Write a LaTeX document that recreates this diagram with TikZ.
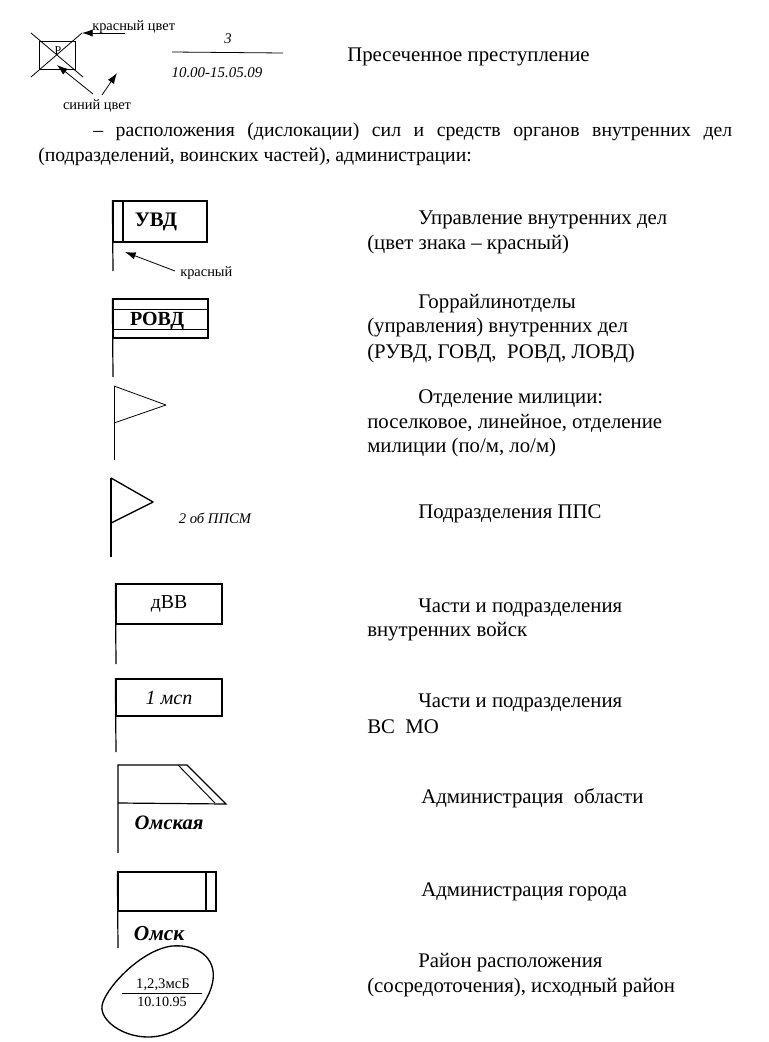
\documentclass[tikz,border=0pt]{standalone}
\usepackage{fontspec}
\setmainfont{Liberation Serif}
\usetikzlibrary{arrows.meta, positioning, calc}
\tikzset{
  caption/.style={anchor=west, inner sep=0pt, yshift=-0.75pt, font=\fontsize{15.6}{18}\selectfont},
  note/.style={inner sep=0pt, font=\fontsize{10.8}{12}\selectfont},
  flagbox/.style={draw, line width=0.9pt, rectangle, inner sep=0pt},
  pole/.style={draw, line width=0.9pt},
  pointer/.style={-{Latex[length=8pt,width=5.5pt]}, line width=0.6pt},
}
\begin{document}
\begin{tikzpicture}[x=0.75pt, y=-0.75pt]
\useasboundingbox (0,0) rectangle (768,1042);
% crossed-out sign
\node (post) [draw, rectangle, line width=0.6pt, minimum width=27pt, minimum height=21pt, inner sep=0pt] at (57,55) {};
\node (postmark) [inner sep=0pt, font=\fontsize{9}{10}\selectfont] at (58,51) {Р};
\coordinate (crossa) at (31,33);
\coordinate (crossb) at (83,77);
\coordinate (crossc) at (31,77);
\coordinate (crossd) at (82,33);
\draw[line width=0.6pt] (crossa) -- (crossb);
\draw[line width=0.6pt] (crossc) -- (crossd);
\node (redlabel) [note, anchor=west] at (92,27) {красный цвет};
\node (bluelabel) [note] at (97,106) {синий цвет};
\coordinate (redtail) at (125,33);
\coordinate (bluetaila) at (93,94);
\coordinate (bluetipa) at (57,65);
\coordinate (bluetailb) at (102,95);
\coordinate (bluetipb) at (117,73);
\draw[pointer] (redtail) -- (crossd);
\draw[pointer] (bluetaila) -- (bluetipa);
\draw[pointer] (bluetailb) -- (bluetipb);
\node (count) [inner sep=0pt, font=\itshape\fontsize{11}{12}\selectfont] at (228,39) {3};
\node (timestamp) [inner sep=0pt, font=\itshape\fontsize{11.2}{12}\selectfont] at (217,73) {10.00-15.05.09};
\coordinate (rulea) at (172,52);
\coordinate (ruleb) at (283,53);
\draw[line width=0.6pt] (rulea) -- (ruleb);
\node (crime) [caption] at (347,56) {Пресеченное преступление};
% paragraph
\node (paraa) [caption, font=\fontsize{14.8}{18}\selectfont] at (93,131) {\makebox[479.25pt][s]{– расположения (дислокации) сил и средств органов внутренних дел}};
\node (parab) [caption, font=\fontsize{14.8}{18}\selectfont] at (38,156) {(подразделений, воинских частей), администрации:};
% UVD
\node (uvd) [flagbox, minimum width=70.5pt, minimum height=30.75pt] at (160,221.5) {};
\node (uvdname) [inner sep=0pt, font=\bfseries\fontsize{15.5}{16}\selectfont] at (156,222) {УВД};
\draw[pole] (uvd.north west) -- (113,271);
\draw[pole] (123,201) -- (123,242);
\node (redflag) [note, anchor=west] at (180,273) {красный};
\coordinate (flagtail) at (175,271);
\coordinate (flagtip) at (125,252);
\draw[pointer] (flagtail) -- (flagtip);
\node (uvdtexta) [caption] at (418,219) {Управление внутренних дел};
\node (uvdtextb) [caption] at (367,243) {(цвет знака – красный)};
% ROVD
\node (rovd) [flagbox, minimum width=71.25pt, minimum height=29.25pt] at (160.5,318.5) {};
\draw[pole] (rovd.north west) -- (113,377);
\draw[line width=0.7pt] (113,309) -- (208,309);
\draw[line width=0.7pt] (113,329) -- (208,329);
\node (rovdname) [inner sep=0pt, font=\bfseries\fontsize{15}{15}\selectfont] at (157,321) {РОВД};
\node (rovdtexta) [caption] at (418,303) {Горрайлинотделы};
\node (rovdtextb) [caption] at (367,327) {(управления) внутренних дел};
\node (rovdtextc) [caption] at (367,352) {(РУВД, ГОВД,\ \ РОВД, ЛОВД)};
% militia pennant
\coordinate (pena) at (114,386);
\coordinate (penb) at (166,405);
\coordinate (penc) at (114,423);
\coordinate (pend) at (114,460);
\draw[line width=0.6pt, line join=round] (pena) -- (penb) -- (penc);
\draw[line width=0.6pt] (pena) -- (pend);
\node (militiaa) [caption] at (418,398) {Отделение милиции:};
\node (militiab) [caption] at (367,422) {поселковое, линейное, отделение};
\node (militiac) [caption] at (367,446) {милиции (по/м, ло/м)};
% patrol pennant
\coordinate (ppsa) at (111,478);
\coordinate (ppsb) at (153,502);
\coordinate (ppsc) at (111,523);
\coordinate (ppsd) at (111,557);
\draw[line width=1pt, line join=round] (ppsa) -- (ppsb) -- (ppsc);
\draw[line width=1.2pt] (ppsa) -- (ppsd);
\node (ppsname) [inner sep=0pt, font=\itshape\fontsize{11}{12}\selectfont] at (215,518) {2 об ППСМ};
\node (ppstext) [caption] at (418,513) {Подразделения ППС};
% interior troops
\node (dvv) [flagbox, minimum width=79.5pt, minimum height=30pt, font=\fontsize{14.8}{15}\selectfont] at (169,604) {дВВ};
\draw[pole] (dvv.north west) -- (116,664);
\node (dvvtexta) [caption] at (418,607) {Части и подразделения};
\node (dvvtextb) [caption] at (367,631) {внутренних войск};
% regiment
\node (msp) [flagbox, minimum width=79.5pt, minimum height=27.75pt, font=\itshape\fontsize{15}{15}\selectfont] at (169,697.5) {1 мсп};
\draw[pole] (msp.north west) -- (116,752);
\node (msptexta) [caption] at (418,702) {Части и подразделения};
\node (msptextb) [caption] at (367,726) {ВС\ \ МО};
% region
\coordinate (obla) at (118,765);
\coordinate (oblb) at (187,765);
\coordinate (oblc) at (226,804);
\coordinate (obld) at (118,803);
\coordinate (oble) at (178,765);
\coordinate (oblf) at (215,803);
\coordinate (oblg) at (118,853);
\draw[pole] (oblg) -- (obla) -- (oblb) -- (oblc) -- (obld);
\draw[line width=0.7pt] (oble) -- (oblf);
\node (oblname) [inner sep=0pt, font=\bfseries\itshape\fontsize{15.4}{16}\selectfont] at (169,823) {Омская};
\node (obltext) [caption] at (421,797) {Администрация\ \ области};
% city
\node (city) [flagbox, minimum width=73.5pt, minimum height=29.25pt] at (167,891.5) {};
\draw[pole] (city.north west) -- (118,948);
\draw[line width=0.8pt] (206,872) -- (206,911);
\node (cityname) [inner sep=0pt, font=\bfseries\itshape\fontsize{16}{16}\selectfont] at (159,934) {Омск};
\node (citytext) [caption] at (421,891) {Администрация города};
% area
\draw[line width=1pt] (172,946) .. controls (198,944) and (216,958) .. (213,980)
  .. controls (210,1002) and (185,1037) .. (148,1037)
  .. controls (122,1037) and (100,1020) .. (102,1006)
  .. controls (104,990) and (140,950) .. (172,946) -- cycle;
\node (areatop) [inner sep=0pt, font=\fontsize{11}{12}\selectfont] at (163,985) {1,2,3мсБ};
\node (areabot) [inner sep=0pt, font=\fontsize{10.6}{12}\selectfont] at (162,1002) {10.10.95};
\draw[line width=0.6pt] (122,993) -- (202,993);
\node (areatexta) [caption] at (418,962) {Район расположения};
\node (areatextb) [caption] at (367,986) {(сосредоточения), исходный район};
\end{tikzpicture}
\end{document}
